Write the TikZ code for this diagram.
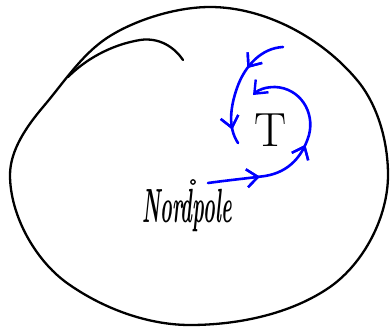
\documentclass[tikz,border=0pt]{standalone}
\usetikzlibrary{arrows.meta,decorations.markings}
\begin{document}
\begin{tikzpicture}[x=1pt,y=-1pt,
  ink/.style={draw=black,line width=2.3pt,line cap=round,line join=round},
  bluepen/.style={draw=blue,line width=2.6pt,line cap=round,line join=round},
  barb/.style={-{Straight Barb[length=11pt,width=18pt,line width=2.4pt]}},
  midbarb/.style={postaction={decorate},decoration={markings,
     mark=at position #1 with {\arrow{Straight Barb[length=11pt,width=18pt,line width=2.4pt]}}}},
  handtext/.style={font=\bfseries\itshape\fontsize{20}{20}\selectfont}]
\useasboundingbox (0,0) rectangle (390,329);
% outer blob
\draw[ink] (210,7) .. controls (265,7) and (322,38) .. (357,80)
  .. controls (378,105) and (388,142) .. (388,175)
  .. controls (388,217) and (364,263) .. (330,287)
  .. controls (291,314) and (238,325) .. (190,325)
  .. controls (147,325) and (102,308) .. (67,283)
  .. controls (35,260) and (10,215) .. (10,175)
  .. controls (10,150) and (27,126) .. (43,107)
  .. controls (61,86) and (78,60) .. (100,43)
  .. controls (124,24) and (171,7) .. cycle;
% inner arc
\draw[ink] (68,77) .. controls (85,60) and (110,45) .. (140,40)
  .. controls (160,37) and (175,48) .. (183,60);
% labels
\node[inner sep=0pt] (T) at (271,130) {\fontsize{48}{48}\selectfont T};
\node[handtext,anchor=base,inner sep=0pt] (np) at (187,222) {\scalebox{1}[2.4]{Nordpole}};
\draw[line width=1.3pt] (193,182) circle (2.2);
\coordinate (a1s) at (283,47);
\coordinate (a1e) at (238,143);
\coordinate (a2s) at (208,183);
\coordinate (a2e) at (253,95);
% blue arrows
\draw[bluepen,midbarb=0.35,midbarb=0.88] (a1s) .. controls (262,48) and (245,65) .. (237,88)
  .. controls (230,108) and (228,128) .. (a1e);
\draw[bluepen,barb,midbarb=0.245,midbarb=0.52] (a2s) .. controls (230,180) and (250,178) .. (265,176)
  .. controls (290,172) and (303,155) .. (309,135)
  .. controls (315,112) and (300,88) .. (275,87)
  .. controls (265,87) and (258,90) .. (a2e);
\end{tikzpicture}
\end{document}
